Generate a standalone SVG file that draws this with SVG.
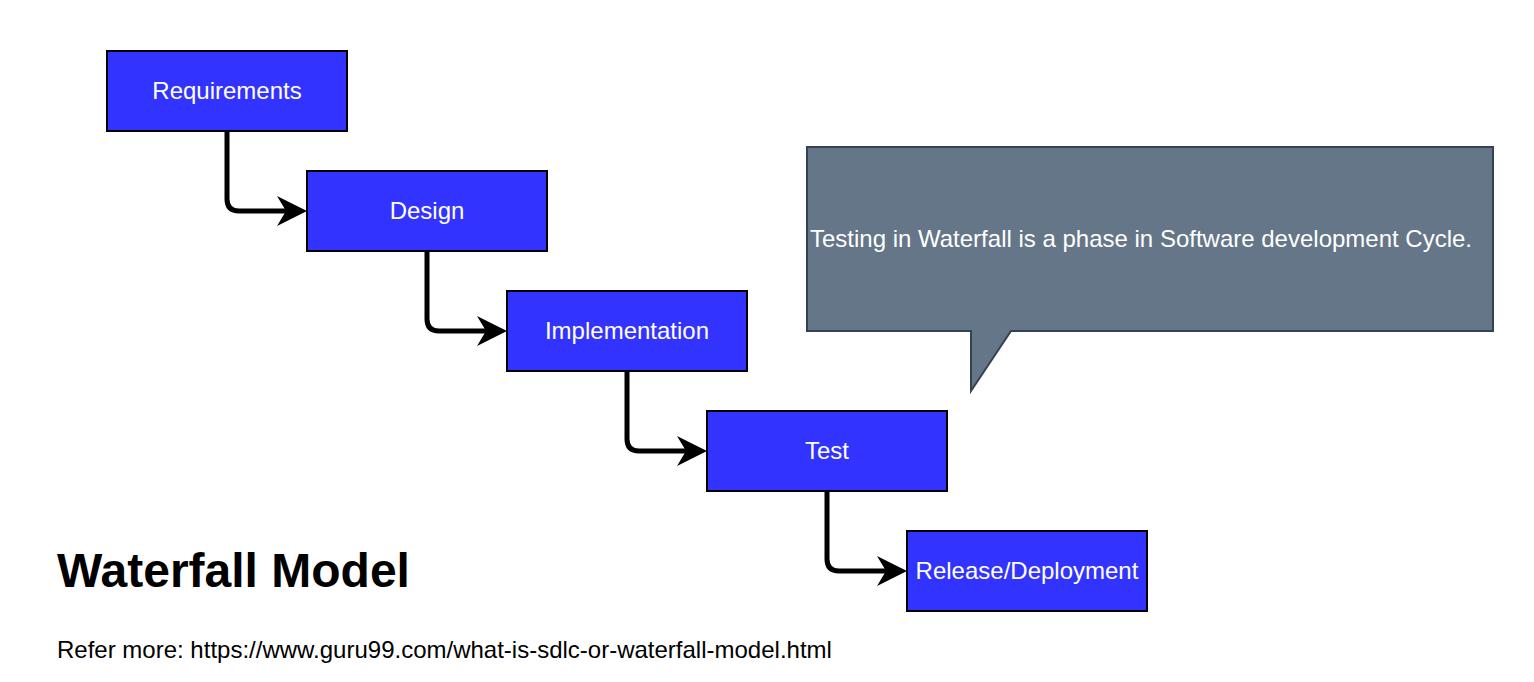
<svg xmlns="http://www.w3.org/2000/svg" width="1534" height="682" viewBox="0 0 1534 682">
  <style>
    .box { fill: #3333FF; stroke: #000000; stroke-width: 2; }
    .lbl { fill: #FFFFFF; font-family: "Liberation Sans", Arial, sans-serif; font-size: 24px; text-anchor: middle; }
    .conn { fill: none; stroke: #000000; stroke-width: 5; stroke-linejoin: round; }
    .callout { fill: #647687; stroke: #314354; stroke-width: 2; }
    .title { fill: #000000; font-family: "Liberation Sans", Arial, sans-serif; font-size: 48px; font-weight: bold; }
    .note { fill: #000000; font-family: "Liberation Sans", Arial, sans-serif; font-size: 24px; }
  </style>
  <defs>
    <marker id="arrow" viewBox="0 0 30 30" markerWidth="30" markerHeight="30" refX="17" refY="15" orient="auto" markerUnits="userSpaceOnUse">
      <path d="M0 0 L30 15 L0 30 L9 15 Z" fill="#000000"/>
    </marker>
  </defs>
  <rect width="1534" height="682" fill="#FFFFFF"/>

  <g id="connectors">
    <path class="conn" d="M227 131 V199 Q227 211 239 211 H294" marker-end="url(#arrow)"/>
    <path class="conn" d="M427 251 V319 Q427 331 439 331 H494" marker-end="url(#arrow)"/>
    <path class="conn" d="M627 371 V439 Q627 451 639 451 H694" marker-end="url(#arrow)"/>
    <path class="conn" d="M827 491 V559 Q827 571 839 571 H894" marker-end="url(#arrow)"/>
  </g>

  <g id="requirements">
    <rect class="box" x="107" y="51" width="240" height="80"/>
    <text class="lbl" x="227" y="99">Requirements</text>
  </g>
  <g id="design">
    <rect class="box" x="307" y="171" width="240" height="80"/>
    <text class="lbl" x="427" y="219">Design</text>
  </g>
  <g id="implementation">
    <rect class="box" x="507" y="291" width="240" height="80"/>
    <text class="lbl" x="627" y="339">Implementation</text>
  </g>
  <g id="test">
    <rect class="box" x="707" y="411" width="240" height="80"/>
    <text class="lbl" x="827" y="459">Test</text>
  </g>
  <g id="release">
    <rect class="box" x="907" y="531" width="240" height="80"/>
    <text class="lbl" x="1027" y="579">Release/Deployment</text>
  </g>

  <g id="callout">
    <path class="callout" d="M807 147 H1493 V331 H1011 L971 391 V331 H807 Z"/>
    <text class="lbl" x="1141" y="247">Testing in Waterfall is a phase in Software development Cycle.</text>
  </g>

  <g id="title">
    <text class="title" x="57" y="587">Waterfall Model</text>
  </g>
  <g id="reference">
    <text class="note" x="57" y="658">Refer more: https://www.guru99.com/what-is-sdlc-or-waterfall-model.html</text>
  </g>
</svg>
